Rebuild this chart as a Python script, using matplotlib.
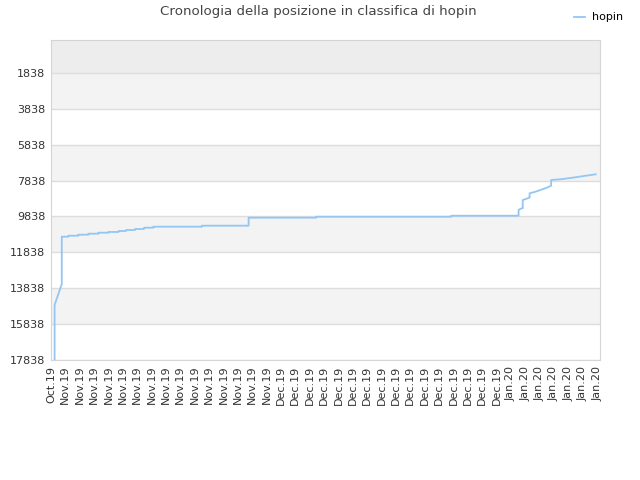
import numpy as np
import matplotlib.pyplot as plt

# valori: giorni dal 30 ott 2019, posizione in classifica
giorni = [0.5, 0.5, 1.5, 1.5, 2.4, 2.4, 3.8, 3.8, 5.2, 5.2, 6.6, 6.6, 8.0, 8.0,
          9.4, 9.4, 10.45, 10.45, 11.7, 11.7, 12.95, 12.95, 14.25, 14.25,
          21.0, 21.0, 27.5, 27.5, 36.9, 36.9, 55.7, 55.7, 65.07, 65.07, 65.3,
          65.55, 65.65, 65.65, 66.1, 66.5, 66.6, 66.6, 67.4, 68.2, 69.0, 69.6,
          69.6, 71.0, 72.5, 74.0, 75.8]
posizione = [17838, 14772, 13600, 10965, 10965, 10909, 10909, 10853, 10853, 10797,
             10797, 10741, 10741, 10702, 10702, 10647, 10647, 10591, 10591, 10535,
             10535, 10463, 10463, 10407, 10407, 10351, 10351, 9905, 9905, 9850,
             9850, 9795, 9795, 9476, 9420, 9381, 9381, 8918, 8863, 8790, 8790,
             8545, 8460, 8350, 8230, 8121, 7803, 7760, 7680, 7590, 7486]

yticks = [1838, 3838, 5838, 7838, 9838, 11838, 13838, 15838, 17838]
xtick_labels = (['Oct.19'] + ['Nov.19'] * 15 + ['Dec.19'] * 16 + ['Jan.20'] * 7)

COLOR_LINE = '#94c6f4'

fig = plt.figure(figsize=(6.4, 4.8), dpi=100)
ax = fig.add_axes([51 / 640, 0.25, 549 / 640, 320 / 480])

# fasce alternate di sfondo
ax.axhspan(1838, 0, color='#ededed', zorder=0, lw=0)
for i in range(len(yticks) - 1):
    if i % 2 == 0:
        ax.axhspan(yticks[i], yticks[i + 1], color='#f3f3f3', zorder=0, lw=0)
for y in yticks:
    ax.axhline(y, color='#dddddd', lw=1, zorder=1)

ax.plot(giorni, posizione, color=COLOR_LINE, lw=1.3, label='hopin', zorder=3)

ax.set_ylim(17838, 0)
ax.set_xlim(0, 76.4)
ax.set_yticks(yticks)
ax.set_yticklabels([str(v) for v in yticks], fontsize=8, color='#333333')
ax.set_xticks(np.arange(0, 2 * len(xtick_labels), 2))
ax.set_xticklabels(xtick_labels, rotation=90, fontsize=8, color='#333333')
ax.tick_params(length=0, pad=4)
for s in ax.spines.values():
    s.set_color('#d5d5d5')

fig.text(0.497, 1 - 12 / 480, 'Cronologia della posizione in classifica di hopin',
         ha='center', va='center', fontsize=9.6, color='#444444')
fig.legend(loc='upper right', bbox_to_anchor=(0.99, 0.995), frameon=False,
           fontsize=8, handlelength=1.0, handletextpad=0.7)

plt.savefig('out.png', dpi=100)
